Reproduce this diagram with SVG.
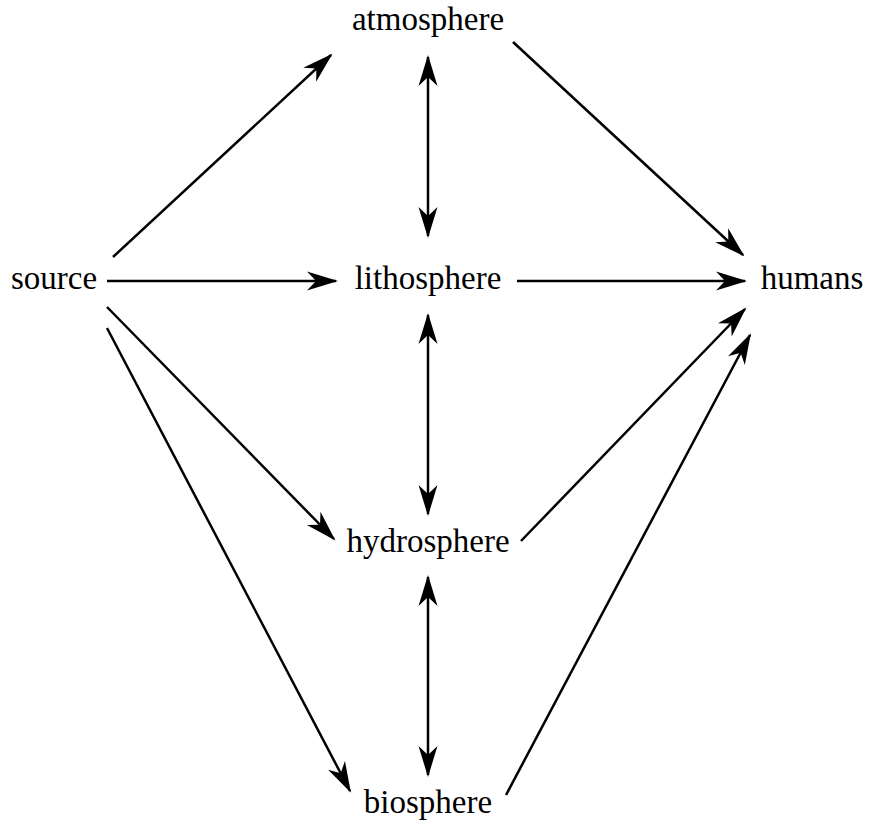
<svg xmlns="http://www.w3.org/2000/svg" width="870" height="824" viewBox="0 0 870 824">
<style>
.n text{font-family:'Liberation Serif','Times New Roman',Times,serif;font-size:33px;fill:#000;text-anchor:middle}
.c line{stroke:#000;stroke-width:2.5;fill:none}
</style>
<defs>
<marker id="ah" markerUnits="userSpaceOnUse" viewBox="-34 -12 38 24" refX="0" refY="0" markerWidth="38" markerHeight="24" orient="auto-start-reverse">
<path d="M2,0 L-29,-9.5 L-20,0 L-29,9.5 Z" fill="#000"/>
</marker>
</defs>
<rect width="870" height="824" fill="#fff"/>
<g class="n">
<g id="atmosphere"><text x="428" y="30">atmosphere</text></g>
<g id="source"><text x="54" y="289">source</text></g>
<g id="lithosphere"><text x="428" y="289">lithosphere</text></g>
<g id="humans"><text x="812" y="289">humans</text></g>
<g id="hydrosphere"><text x="428" y="552">hydrosphere</text></g>
<g id="biosphere"><text x="428" y="813">biosphere</text></g>
</g>
<g class="c" id="connectors">
<line x1="113" y1="257" x2="331" y2="55" marker-end="url(#ah)"/>
<line x1="107" y1="281" x2="336" y2="281" marker-end="url(#ah)"/>
<line x1="107" y1="307" x2="334" y2="539" marker-end="url(#ah)"/>
<line x1="107" y1="328" x2="350" y2="791" marker-end="url(#ah)"/>
<line x1="428" y1="57" x2="428" y2="236" marker-start="url(#ah)" marker-end="url(#ah)"/>
<line x1="428" y1="315" x2="428" y2="514" marker-start="url(#ah)" marker-end="url(#ah)"/>
<line x1="428" y1="577" x2="428" y2="775" marker-start="url(#ah)" marker-end="url(#ah)"/>
<line x1="513" y1="42" x2="743" y2="255" marker-end="url(#ah)"/>
<line x1="517" y1="281" x2="745" y2="281" marker-end="url(#ah)"/>
<line x1="521" y1="541" x2="745" y2="309" marker-end="url(#ah)"/>
<line x1="506" y1="795" x2="750" y2="335" marker-end="url(#ah)"/>
</g>
</svg>
